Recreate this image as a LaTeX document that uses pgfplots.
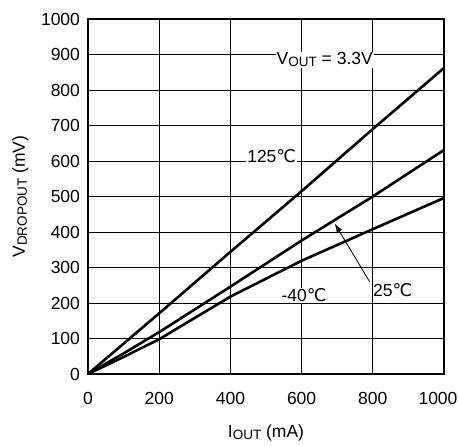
\documentclass[border=0pt]{standalone}
\usepackage{fontspec}
\setmainfont{Liberation Sans}
\newfontfamily\dejavu{DejaVu Sans}
\usepackage{pgfplots}
\pgfplotsset{compat=1.18}
\usetikzlibrary{arrows.meta}
\newcommand\sub[1]{\raisebox{-2pt}{\fontsize{13.5}{14}\selectfont #1}}
\newcommand\degc{{\dejavu ℃}}
\tikzset{curve/.style={black, line width=2.6pt, no markers}}

\begin{document}
\fontsize{17.5}{20}\selectfont
\begin{tikzpicture}
\begin{axis}[
    at={(0,0)}, anchor=south west,
    scale only axis,
    width=356pt, height=355pt,
    xmin=0, xmax=1000, ymin=0, ymax=1000,
    xtick={0,200,...,800}, ytick={0,100,...,1000},
    extra x ticks={1000},
    extra x tick style={xticklabel style={xshift=-6pt}},
    major tick length=0pt,
    grid=major,
    grid style={black, line width=0.9pt},
    axis line style={line width=1.4pt},
    /pgf/number format/assume math mode=true,
    /pgf/number format/1000 sep={},
    xticklabel style={yshift=-12pt},
    yticklabel style={xshift=-2pt},
    xlabel={I\sub{OUT} (mA)},
    ylabel={V\sub{DROPOUT} (mV)},
    xlabel style={at={(axis description cs:0.5,-0.166)}, anchor=center},
    ylabel style={at={(axis description cs:-0.19,0.5)}, anchor=center},
]
% 125 C
\addplot[curve] coordinates {(0,0) (200,171) (400,344) (600,515) (800,690) (1000,862)};
% 25 C
\addplot[curve] coordinates {(0,0) (100,58) (200,118) (400,246) (600,376) (800,500) (1000,631)};
% -40 C
\addplot[curve] coordinates {(0,0) (100,48) (200,98) (400,218) (600,319) (800,408) (1000,496)};

\node[fill=white, inner sep=1pt] at (axis cs:665,885) {V\sub{OUT} = 3.3V};
\node[fill=white, inner sep=1pt] at (axis cs:516,614) {125\degc};
\node[fill=white, inner sep=1pt] at (axis cs:607,222) {-40\degc};
\node[inner sep=1pt] at (axis cs:856,237) {25\degc};
\draw[line width=0.8pt, -{Latex[length=9pt,width=6pt]}] (axis cs:791,260) -- (axis cs:693,424);
\end{axis}
\pgfresetboundingbox
\path (-88pt,-71pt) rectangle (370pt,374pt);
\end{tikzpicture}
\end{document}
